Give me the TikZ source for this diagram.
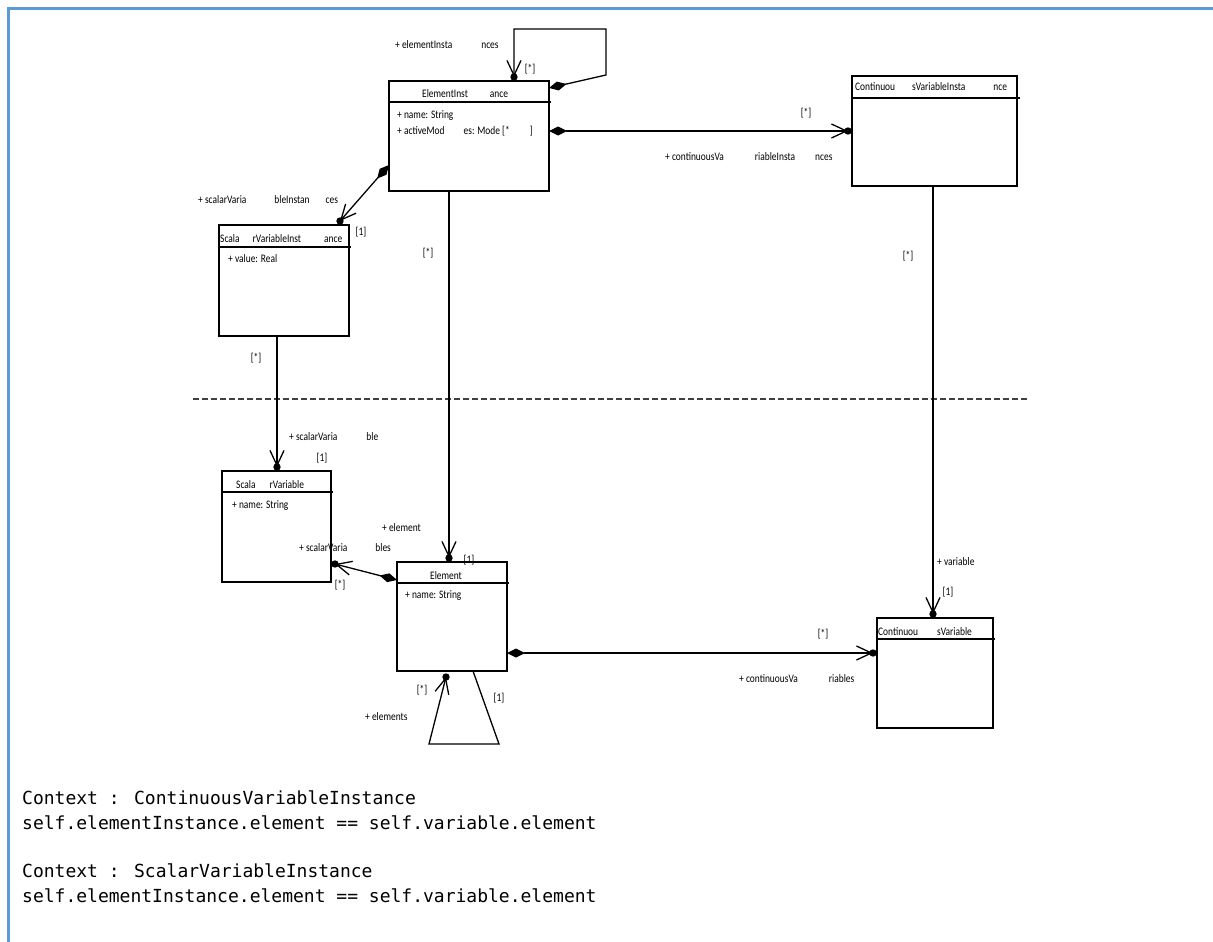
\documentclass[tikz,border=0pt]{standalone}
\usepackage{fontspec}
\usetikzlibrary{arrows.meta}
\newfontfamily\lblfont[FakeStretch=0.82]{Carlito}
\newfontfamily\codefont{DejaVu Sans Mono}
\definecolor{frameblue}{HTML}{5B9BD5}
\newcommand{\gp}[1]{\hspace*{#1pt}}
\begin{document}
\begin{tikzpicture}[x=1pt,y=-1pt,
  umlbox/.style={draw, line width=1.4pt, inner sep=0pt, outer sep=0pt},
  sepline/.style={line width=1.3pt},
  lbl/.style={font=\lblfont\fontsize{11.5}{12}\selectfont, inner sep=0pt, anchor=base west},
  mult/.style={font=\lblfont\fontsize{11.5}{12}\selectfont, inner sep=0pt, anchor=base},
  assoc/.style={line width=1.3pt, -{Straight Barb[length=15pt,width=14pt]}},
  compo/.style={line width=1.3pt, {Diamond[length=18pt,width=9pt]}-{Straight Barb[length=15pt,width=14pt]}},
  code/.style={font=\codefont\fontsize{18}{22}\selectfont, inner sep=0pt, anchor=base west},
]
\useasboundingbox (0,0) rectangle (1213,942);
% frame
\draw[frameblue, line width=2.5pt] (8.5,942) -- (8.5,8.5) -- (1213,8.5);

% classes
\node[umlbox, minimum width=160pt, minimum height=110pt] (ei) at (469,136) {};
\node[umlbox, minimum width=165pt, minimum height=110pt] (cvi) at (934.5,131) {};
\node[umlbox, minimum width=130pt, minimum height=111pt] (svi) at (284,280.5) {};
\node[umlbox, minimum width=109pt, minimum height=111pt] (sv) at (276.5,526.5) {};
\node[umlbox, minimum width=110pt, minimum height=109pt] (el) at (452,616.5) {};
\node[umlbox, minimum width=116pt, minimum height=110pt] (cv) at (935,673) {};

% header separators
\draw[sepline] ([yshift=-21pt]ei.north west) -- ([xshift=2pt,yshift=-21pt]ei.north east);
\draw[sepline] ([yshift=-22pt]cvi.north west) -- ([xshift=3pt,yshift=-22pt]cvi.north east);
\draw[sepline] ([yshift=-22pt]svi.north west) -- ([xshift=2pt,yshift=-22pt]svi.north east);
\draw[sepline] ([yshift=-21pt]sv.north west) -- ([xshift=2pt,yshift=-21pt]sv.north east);
\draw[sepline] ([yshift=-21pt]el.north west) -- ([xshift=2pt,yshift=-21pt]el.north east);
\draw[sepline] ([yshift=-21pt]cv.north west) -- ([xshift=2pt,yshift=-21pt]cv.north east);

% class texts
\node[lbl] (t1) at (422,97) {ElementInst\gp{22}ance};
\node[lbl] (t2) at (397,118) {+ name: String};
\node[lbl] (t3) at (397,134) {+ activeMod\gp{19}es: Mode [*\gp{20}]};
\node[lbl] (t4) at (855,91) {Continuou\gp{17}sVariableInsta\gp{28}nce};
\node[lbl] (t5) at (220,242) {Scala\gp{13}rVariableInst\gp{23}ance};
\node[lbl] (t6) at (228,262) {+ value: Real};
\node[lbl] (t7) at (236,488) {Scala\gp{14}rVariable};
\node[lbl] (t8) at (232,508) {+ name: String};
\node[mult] (t9) at (446,579) {Element};
\node[lbl] (t10) at (405,598) {+ name: String};
\node[lbl] (t11) at (878,635) {Continuou\gp{19}sVariable};

% separator line between levels
\draw[dash pattern=on 6pt off 3pt, line width=2pt, black!75] (193,399) -- (1027,399);

% self association of ElementInstance
\coordinate (la) at (606,75);
\coordinate (lb) at (606,29);
\coordinate (lc) at (514,29);
\coordinate (ld) at (514,77);
\draw[compo] ([yshift=-7pt]ei.north east) -- (la) -- (lb) -- (lc) -- (ld);
\fill (ld) circle (3.7pt);

% ElementInstance -> ContinuousVariableInstance
\draw[compo] ([yshift=5pt]ei.east) -- ([xshift=-4pt]cvi.west);
\fill ([xshift=-4pt]cvi.west) circle (3.7pt);

% ElementInstance -> ScalarVariableInstance
\draw[compo] ([yshift=-29pt]ei.west) -- ([xshift=56pt,yshift=4pt]svi.north);
\fill ([xshift=56pt,yshift=4pt]svi.north) circle (3.7pt);

% ElementInstance -> Element
\draw[assoc] ([xshift=-20pt]ei.south) -- ([xshift=-3pt,yshift=4pt]el.north);
\fill ([xshift=-3pt,yshift=4pt]el.north) circle (3.7pt);

% ContinuousVariableInstance -> ContinuousVariable
\draw[assoc] ([xshift=-1.5pt]cvi.south) -- ([xshift=-2pt,yshift=4pt]cv.north);
\fill ([xshift=-2pt,yshift=4pt]cv.north) circle (3.7pt);

% ScalarVariableInstance -> ScalarVariable
\draw[assoc] ([xshift=-7pt]svi.south) -- ([xshift=0.5pt,yshift=4pt]sv.north);
\fill ([xshift=0.5pt,yshift=4pt]sv.north) circle (3.7pt);

% Element -> ScalarVariable
\draw[compo] ([yshift=36.5pt]el.west) -- ([xshift=4pt,yshift=-37.5pt]sv.east);
\fill ([xshift=4pt,yshift=-37.5pt]sv.east) circle (3.7pt);

% Element -> ContinuousVariable
\draw[compo] ([yshift=-36.5pt]el.east) -- ([xshift=-4pt,yshift=20pt]cv.west);
\fill ([xshift=-4pt,yshift=20pt]cv.west) circle (3.7pt);

% self association of Element
\coordinate (ea) at (499,744);
\coordinate (eb) at (429,744);
\draw[assoc] ([xshift=21pt]el.south) -- (ea) -- (eb) -- ([xshift=-6pt,yshift=-6pt]el.south);
\fill ([xshift=-6pt,yshift=-6pt]el.south) circle (3.7pt);

% role names and multiplicities
\node[lbl] (r1) at (395,49) {+ elementInsta\gp{29}nces};
\node[mult] (m1) at (530,73) {[*]};
\node[lbl] (r2) at (665,160) {+ continuousVa\gp{31}riableInsta\gp{20}nces};
\node[mult] (m2) at (806,117) {[*]};
\node[lbl] (r3) at (198,203) {+ scalarVaria\gp{28}bleInstan\gp{16}ces};
\node[mult] (m3) at (361,235) {[1]};
\node[mult] (m4) at (428,256) {[*]};
\node[mult] (m5) at (908,259) {[*]};
\node[mult] (m6) at (256,361) {[*]};
\node[lbl] (r4) at (289,440) {+ scalarVaria\gp{29}ble};
\node[mult] (m7) at (322,461) {[1]};
\node[lbl] (r5) at (382,531) {+ element};
\node[lbl] (r6) at (299,551) {+ scalarVaria\gp{28}bles};
\node[mult] (m8) at (340,588) {[*]};
\node[mult] (m9) at (469,563) {[1]};
\node[lbl] (r7) at (937,565) {+ variable};
\node[mult] (m10) at (948,595) {[1]};
\node[mult] (m11) at (823,637) {[*]};
\node[lbl] (r8) at (739,682) {+ continuousVa\gp{31}riables};
\node[mult] (m12) at (422,693) {[*]};
\node[mult] (m13) at (499,701) {[1]};
\node[lbl] (r9) at (365,720) {+ elements};

% constraints
\node[code] (c1) at (22,804) {Context : ContinuousVariableInstance};
\node[code] (c2) at (22,829) {self.elementInstance.element == self.variable.element};
\node[code] (c3) at (22,877) {Context : ScalarVariableInstance};
\node[code] (c4) at (22,902) {self.elementInstance.element == self.variable.element};
\end{tikzpicture}
\end{document}
